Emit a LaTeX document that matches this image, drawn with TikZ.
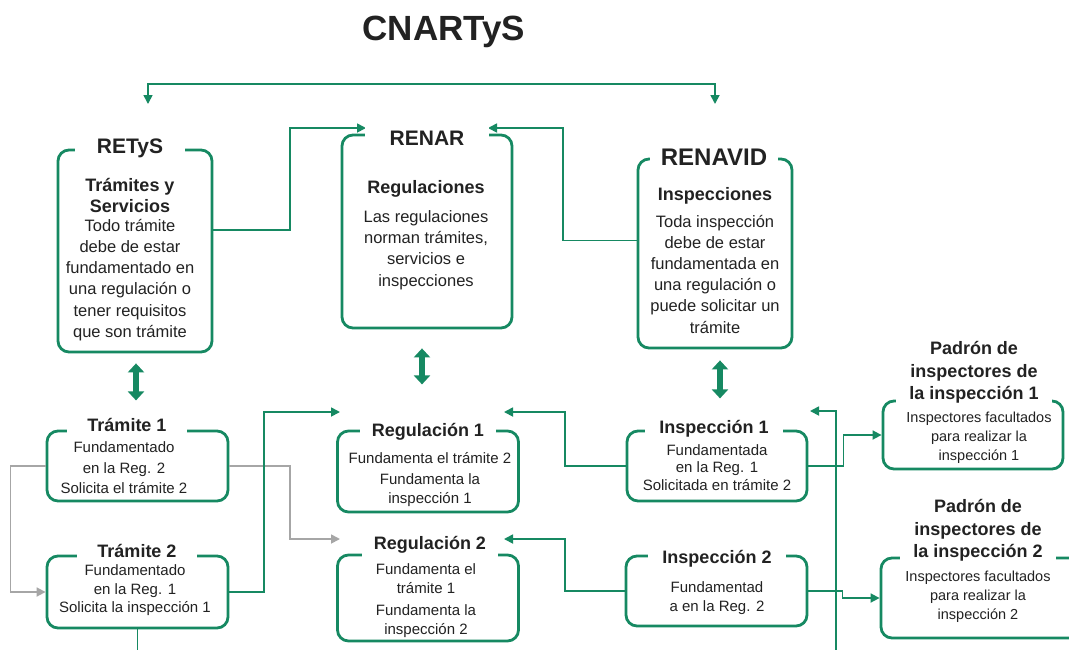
\documentclass[tikz,border=0pt]{standalone}
\usepackage{fontspec}
\setmainfont{Liberation Sans}
\usetikzlibrary{arrows.meta,calc}
\definecolor{grn}{RGB}{22,137,98}
\definecolor{gry}{RGB}{166,166,166}
\definecolor{ink}{RGB}{34,34,34}
\newcommand\fsz[2]{\fontsize{#1}{#2}\selectfont}
\begin{document}
\begin{tikzpicture}[x=1pt,y=-1pt,
 box/.style={draw=grn, line width=2.8pt, rounded corners=11pt, inner sep=0pt},
 ttl/.style={fill=white, text=ink, inner xsep=14pt, inner ysep=0pt, minimum height=26pt, font=\bfseries\fsz{18}{21}},
 txt/.style={text=ink, align=center, inner sep=0pt},
 conn/.style={draw=grn, line width=1.7pt, -{Triangle[length=9pt,width=9pt]}},
 gconn/.style={draw=gry, line width=1.7pt, -{Triangle[length=9pt,width=9pt]}},
 dbl/.style={draw=grn, line width=6pt, {Triangle[length=9pt,width=16pt]}-{Triangle[length=9pt,width=16pt]}},
]
\fill[white] (0,0) rectangle (1069,649);
\useasboundingbox (0,0) rectangle (1069,649);

\node[txt, font=\bfseries\fsz{35}{40}] (title) at (444,32) {CNARTyS};

% boxes
\node[box, minimum width=154pt, minimum height=202pt] (retys) at (135,251) {};
\node[box, minimum width=170pt, minimum height=193pt] (renar) at (427,231.5) {};
\node[box, minimum width=154pt, minimum height=189pt] (renavid) at (715,253.5) {};
\node[box, minimum width=181pt, minimum height=70pt] (tram1) at (137.5,466) {};
\node[box, minimum width=181pt, minimum height=72pt] (tram2) at (137.5,592) {};
\node[box, minimum width=181pt, minimum height=81pt] (reg1) at (428,471.5) {};
\node[box, minimum width=181pt, minimum height=86pt] (reg2) at (428,598) {};
\node[box, minimum width=180pt, minimum height=70pt] (insp1) at (717,466) {};
\node[box, minimum width=181pt, minimum height=70pt] (insp2) at (716.5,591) {};
\node[box, minimum width=180pt, minimum height=68pt] (pad1) at (973,435) {};
\node[box, minimum width=200pt, minimum height=80pt] (pad2) at (981,598) {};

% connectors
\coordinate (retysIn) at (148,104);
\coordinate (renavidIn) at (715,104);
\draw[conn, {Triangle[length=9pt,width=9pt]}-{Triangle[length=9pt,width=9pt]}] (retysIn) -- ++(0,-20) -| (renavidIn);
\coordinate (renarL) at (366,128);
\coordinate (renarR) at (488,128);
\draw[conn] ([yshift=21pt]retys.east) -| ($(renarL)+(-76,0)$) -- (renarL);
\draw[conn] ([yshift=13pt]renavid.west) -| ($(renarR)+(75,0)$) -- (renarR);

\draw[dbl] ([xshift=1pt,yshift=-10pt]retys.south) -- ([xshift=1pt,yshift=-47pt]retys.south);
\draw[dbl] ([xshift=-5pt,yshift=-19pt]renar.south) -- ([xshift=-5pt,yshift=-55pt]renar.south);
\draw[dbl] ([xshift=5pt,yshift=-11pt]renavid.south) -- ([xshift=5pt,yshift=-49pt]renavid.south);

\draw[gconn] (tram1.west) -- ++(-35,0) |- (tram2.west);
\coordinate (reg2L) at (340,539);
\draw[gconn] (tram1.east) -| ($(reg2L)+(-50,0)$) -- (reg2L);
\coordinate (reg1L) at (340,412);
\draw[conn] (tram2.east) -| ($(reg1L)+(-76,0)$) -- (reg1L);
\coordinate (tram2Out) at (137.5,660);
\draw[draw=grn, line width=1.7pt] (tram2.south) -- (tram2Out);
\coordinate (reg1R) at (504,412);
\draw[conn] (insp1.west) -| ($(reg1R)+(61,0)$) -- (reg1R);
\coordinate (reg2R) at (504,539);
\draw[conn] (insp2.west) -| ($(reg2R)+(61,0)$) -- (reg2R);
\coordinate (insp1R) at (810,411);
\coordinate (bottomR) at (836,660);
\draw[conn] (bottomR) |- (insp1R);
\draw[conn] (insp1.east) -| ($(pad1.west)+(-38,0)$) -- (pad1.west);
\draw[conn] (insp2.east) -| ($(pad2.west)+(-37,0)$) -- (pad2.west);

% upper titles and texts
\node[ttl, font=\bfseries\fsz{21}{24}, inner xsep=22pt] (retysT) at (130,148) {RETyS};
\node[ttl, font=\bfseries\fsz{21}{24}, inner xsep=25pt] (renarT) at (427,138) {RENAR};
\node[ttl, font=\bfseries\fsz{24}{28}, inner xsep=11pt] (renavidT) at (714,157) {RENAVID};

\node[txt, font=\bfseries\fsz{18}{21}] (retysS) at (130,195.5) {Trámites y\\Servicios};
\node[txt, font=\fsz{16.5}{21.2}] (retysB) at (130,280) {Todo trámite\\debe de estar\\fundamentado en\\una regulación o\\tener requisitos\\que son trámite};
\node[txt, font=\bfseries\fsz{18}{21}] (renarS) at (426,189) {Regulaciones};
\node[txt, font=\fsz{16.5}{21.3}] (renarB) at (426,250) {Las regulaciones\\norman trámites,\\servicios e\\inspecciones};
\node[txt, font=\bfseries\fsz{18}{21}] (renavidS) at (715,196) {Inspecciones};
\node[txt, font=\fsz{16.5}{21.2}] (renavidB) at (715,274) {Toda inspección\\debe de estar\\fundamentada en\\una regulación o\\puede solicitar un\\trámite};

% lower titles and texts
\node[ttl, inner xsep=20pt] (tram1T) at (127,425) {Trámite 1};
\node[txt, font=\fsz{15}{20.5}] (tram1B) at (124,468) {Fundamentado\\en la Reg. 2\\Solicita el trámite 2};
\node[ttl, inner xsep=20pt] (tram2T) at (137,551) {Trámite 2};
\node[txt, font=\fsz{15}{18.5}] (tram2B) at (135,590.5) {Fundamentado\\en la Reg. 1\\Solicita la inspección 1};
\node[ttl, inner xsep=12pt] (reg1T) at (428,432) {Regulación 1};
\node[txt, font=\fsz{15}{19}] (reg1B) at (430,480) {Fundamenta el trámite 2\\[2pt]Fundamenta la\\inspección 1};
\node[ttl, inner xsep=12pt] (reg2T) at (430,545) {Regulación 2};
\node[txt, font=\fsz{15}{19}] (reg2B) at (426,601) {Fundamenta el\\trámite 1\\[3pt]Fundamenta la\\inspección 2};
\node[ttl, inner xsep=14pt] (insp1T) at (714,429) {Inspección 1};
\node[txt, font=\fsz{15}{17.5}] (insp1B) at (717,467.5) {Fundamentada\\en la Reg. 1\\Solicitada en trámite 2};
\node[ttl, inner xsep=14pt] (insp2T) at (717,559) {Inspección 2};
\node[txt, font=\fsz{15}{19}] (insp2B) at (717,598.5) {Fundamentad\\a en la Reg. 2};

\node[ttl, align=center, font=\bfseries\fsz{18}{22.5}, inner xsep=13pt, inner ysep=3pt] (pad1T) at (974,372.5) {Padrón de\\inspectores de\\la inspección 1};
\node[ttl, align=center, font=\bfseries\fsz{18}{22.5}, inner xsep=13pt, inner ysep=3pt] (pad2T) at (978,530.5) {Padrón de\\inspectores de\\la inspección 2};
\node[txt, font=\fsz{14.5}{19}] (pad1B) at (979,438) {Inspectores facultados\\para realizar la\\inspección 1};
\node[txt, font=\fsz{14.5}{19}] (pad2B) at (978,597) {Inspectores facultados\\para realizar la\\inspección 2};
\end{tikzpicture}
\end{document}
